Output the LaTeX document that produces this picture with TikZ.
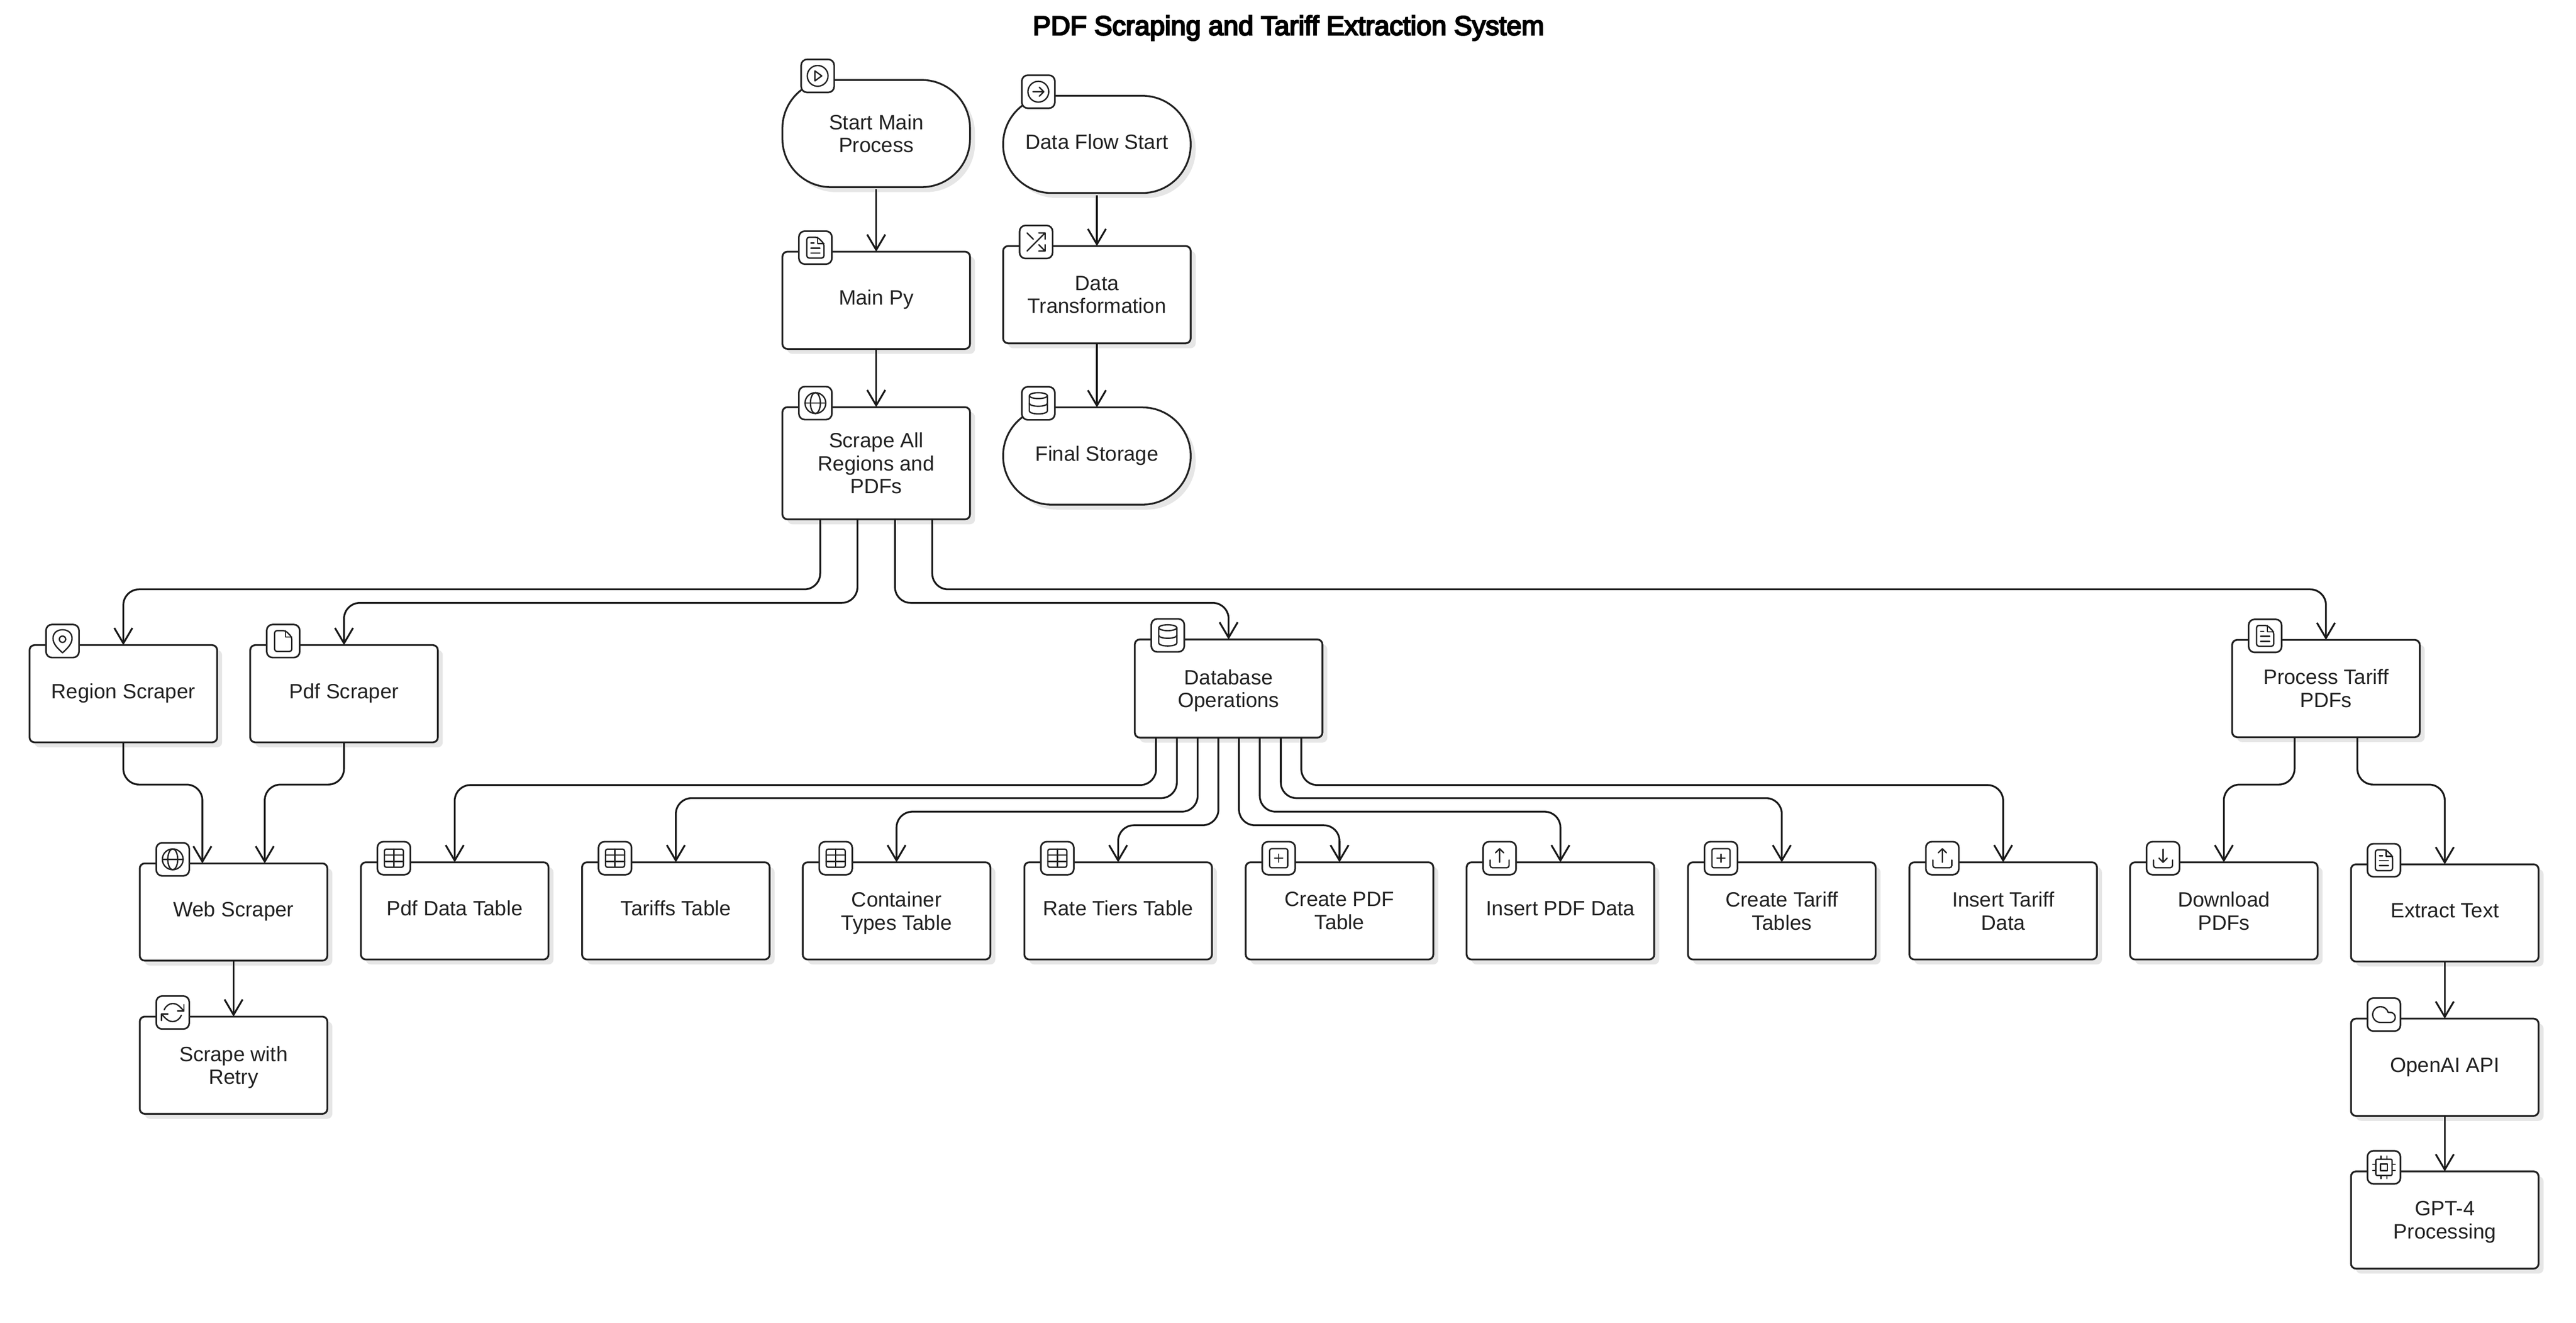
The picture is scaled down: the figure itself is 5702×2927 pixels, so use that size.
\documentclass[tikz,border=0pt]{standalone}
\usepackage{fontspec}
\setmainfont{Liberation Sans}
\newfontfamily\titlefont[FakeBold=5]{Liberation Sans}
\usetikzlibrary{calc,arrows.meta,shadows}
\definecolor{ink}{HTML}{222222}
\definecolor{shadowgray}{HTML}{E6E6E6}
\tikzset{
  flowbox/.style={draw=ink, fill=white, text=ink, line width=0.04cm, rounded corners=0.11cm,
    minimum width=4.15cm, minimum height=2.15cm, inner sep=0pt, outer sep=0pt, align=center,
    font=\fontsize{13.05}{14.5}\selectfont,
    drop shadow={shadow xshift=0.11cm, shadow yshift=-0.11cm, fill=shadowgray, opacity=1}},
  pillbox/.style={flowbox, rounded corners=1.07cm},
  iconbox/.style={draw=ink, fill=white, line width=0.036cm, rounded corners=0.13cm,
    minimum size=0.73cm, inner sep=0pt, outer sep=0pt},
  titletext/.style={inner sep=0pt, font=\titlefont\fontsize{17}{20}\selectfont},
  flowarrow/.style={draw=black!90, line width=0.04cm, rounded corners=0.35cm,
    -{Straight Barb[length=0.34cm,width=0.4cm]}},
  glyphline/.style={draw=ink, line width=0.03cm, line cap=round, line join=round},
  playglyph/.pic={
    \draw[glyphline] (0,0) circle [radius=23];
    \draw[glyphline] (-6,-11) -- (9,0) -- (-6,11) -- cycle;
  },
  goglyph/.pic={
    \draw[glyphline] (0,0) circle [radius=23];
    \draw[glyphline] (-12,0) -- (12,0) (2,-10) -- (12,0) -- (2,10);
  },
  fileglyph/.pic={
    \draw[glyphline, rounded corners=0.05cm] (5,-23) -- (-19,-23) -- (-19,23) -- (19,23) -- (19,-9) -- cycle;
    \draw[glyphline] (5,-23) -- (5,-9) -- (19,-9);
  },
  docglyph/.pic={
    \pic {fileglyph};
    \draw[glyphline] (-10,-10) -- (-3,-10) (-10,1) -- (10,1) (-10,12) -- (10,12);
  },
  shuffleglyph/.pic={
    \draw[glyphline] (-20,20) -- (20,-20) (6,-20) -- (20,-20) -- (20,-6);
    \draw[glyphline] (-20,-20) -- (-6,-6) (6,6) -- (20,20) (20,6) -- (20,20) -- (6,20);
  },
  globeglyph/.pic={
    \draw[glyphline] (0,0) circle [radius=23];
    \draw[glyphline] (0,0) ellipse [x radius=11, y radius=23];
    \draw[glyphline] (-23,0) -- (23,0);
  },
  dbglyph/.pic={
    \draw[glyphline] (0,-17) ellipse [x radius=20, y radius=6.5];
    \draw[glyphline] (-20,-17) -- (-20,17) .. controls (-20,21) and (-9,23.5) .. (0,23.5)
      .. controls (9,23.5) and (20,21) .. (20,17) -- (20,-17);
    \draw[glyphline] (-20,0) .. controls (-20,4) and (-9,6.5) .. (0,6.5)
      .. controls (9,6.5) and (20,4) .. (20,0);
  },
  pinglyph/.pic={
    \draw[glyphline] (0,26) .. controls (-12,15) and (-21,6) .. (-21,-6)
      .. controls (-21,-18) and (-12,-25) .. (0,-25) .. controls (12,-25) and (21,-18) .. (21,-6)
      .. controls (21,6) and (12,15) .. (0,26) -- cycle;
    \draw[glyphline] (0,-4) circle [radius=7];
  },
  tableglyph/.pic={
    \draw[glyphline, rounded corners=0.04cm] (-21,-20) rectangle (21,20);
    \draw[glyphline] (0,-20) -- (0,20) (-21,-7) -- (21,-7) (-21,7) -- (21,7);
  },
  plusglyph/.pic={
    \draw[glyphline, rounded corners=0.04cm] (-20,-21) rectangle (20,21);
    \draw[glyphline] (-9,0) -- (9,0) (0,-9) -- (0,9);
  },
  trayglyph/.pic={
    \draw[glyphline, rounded corners=0.05cm] (-21,4) -- (-21,21) -- (21,21) -- (21,4);
  },
  upglyph/.pic={
    \pic {trayglyph};
    \draw[glyphline] (0,9) -- (0,-21) (-9,-12) -- (0,-21) -- (9,-12);
  },
  downglyph/.pic={
    \pic {trayglyph};
    \draw[glyphline] (0,-20) -- (0,9) (-9,0) -- (0,9) -- (9,0);
  },
  retryglyph/.pic={
    \foreach \turn in {0,180} {
      \begin{scope}[rotate=\turn]
        \draw[glyphline] (-19,-6) .. controls (-16,-14) and (-8,-20) .. (0,-20)
          .. controls (8,-20) and (14,-16) .. (24.7,-3.3);
        \draw[glyphline] (24.7,-17.7) -- (24.7,-3.3) -- (10.7,-3.3);
      \end{scope}
    }
  },
  cloudglyph/.pic={
    \draw[glyphline, scale=2.5, shift={(-12,-12)}] (17.5,19) -- (9,19)
      .. controls (5.15,19) and (2,15.85) .. (2,12) .. controls (2,8.15) and (5.15,5) .. (9,5)
      .. controls (12.1,5) and (14.82,7.03) .. (15.71,10) -- (17.5,10)
      .. controls (19.98,10) and (22,12.02) .. (22,14.5) .. controls (22,16.98) and (19.98,19) .. (17.5,19) -- cycle;
  },
  chipglyph/.pic={
    \draw[glyphline, rounded corners=0.03cm] (-18,-18) rectangle (18,18);
    \draw[glyphline] (-7.5,-7.5) rectangle (7.5,7.5);
    \foreach \p in {-6.7,6.7} {
      \draw[glyphline] (\p,-25) -- (\p,-18) (\p,18) -- (\p,25) (-25,\p) -- (-18,\p) (18,\p) -- (25,\p);
    }
  },
}
\newcommand{\oneline}[1]{\rule[-0.14cm]{0pt}{0.49cm}#1}
\newcommand{\nodrop}[1]{\raisebox{0pt}[\height][0pt]{#1}}
\newcommand{\iconat}[3]{
  \node[iconbox] (#1icon) at ($(#1.north west)+(#2,-9)$) {};
  \pic at (#1icon) {#3};
}
\newcommand{\fanarrow}[5]{
  \coordinate (fanend) at ($(#3.north)+(#4,0)$);
  \draw[flowarrow] ($(#1.south)+(#2,0)$) |- (fanend |- 0,#5) -- (fanend);
}

\begin{document}
\begin{tikzpicture}[x=0.01cm, y=-0.01cm]
  \useasboundingbox (0,0) rectangle (5702,2927);
  \node[titletext] (title) at (2852,62) {PDF Scraping and Tariff Extraction System};

  % the two columns on top
  \node[pillbox, minimum height=2.37cm] (startmain) at (1939.5,295.5) {Start Main\\Process};
  \node[flowbox] (mainpy) at (1939.5,664.5) {\oneline{Main Py}};
  \node[flowbox, minimum height=2.48cm] (scrapeall) at (1939.5,1025) {Scrape All\\Regions and\\PDFs};
  \node[pillbox] (dataflow) at (2428,319.5) {\oneline{Data Flow Start}};
  \node[flowbox] (transform) at (2428,652) {Data\\Transformation};
  \node[pillbox] (finalstore) at (2428,1009) {\oneline{Final Storage}};

  \node[flowbox] (regionscraper) at (273,1535) {\oneline{Region Scraper}};
  \node[flowbox] (pdfscraper) at (761.5,1535) {\oneline{Pdf Scraper}};
  \node[flowbox, minimum height=2.17cm] (dbops) at (2719.5,1523.5) {Database\\\nodrop{Operations}};
  \node[flowbox] (processtariff) at (5148.5,1523.5) {Process Tariff\\PDFs};

  \node[flowbox] (webscraper) at (517,2018) {\oneline{Web Scraper}};
  \node[flowbox] (retry) at (517,2357) {Scrape with\\\nodrop{Retry}};

  % table row under the database box
  \foreach \name/\cx/\lab/\glyph in {
    pdfdata/1006.5/{\oneline{Pdf Data Table}}/tableglyph,
    tariffs/1496/{\oneline{Tariffs Table}}/tableglyph,
    container/1984.5/{Container\\\nodrop{Types Table}}/tableglyph,
    ratetiers/2475/{\oneline{Rate Tiers Table}}/tableglyph,
    createpdf/2965/{Create PDF\\Table}/plusglyph,
    insertpdf/3454/{\oneline{Insert PDF Data}}/upglyph,
    createtariff/3944/{Create Tariff\\Tables}/plusglyph,
    inserttariff/4434/{Insert Tariff\\Data}/upglyph} {
    \node[flowbox] (\name) at (\cx,2015.5) {\lab};
    \iconat{\name}{73}{\glyph}
  }

  \node[flowbox] (download) at (4922.5,2015.5) {Download\\PDFs};
  \node[flowbox] (extract) at (5411.5,2020) {\oneline{Extract Text}};
  \node[flowbox] (openai) at (5411.5,2361.5) {\oneline{OpenAI API}};
  \node[flowbox] (gptfour) at (5411.5,2699.5) {GPT-4\\\nodrop{Processing}};

  \iconat{startmain}{78}{playglyph}
  \iconat{mainpy}{73}{docglyph}
  \iconat{scrapeall}{73}{globeglyph}
  \iconat{dataflow}{78}{goglyph}
  \iconat{transform}{73}{shuffleglyph}
  \iconat{finalstore}{78}{dbglyph}
  \iconat{regionscraper}{73}{pinglyph}
  \iconat{pdfscraper}{73}{fileglyph}
  \iconat{dbops}{73}{dbglyph}
  \iconat{processtariff}{73}{docglyph}
  \iconat{webscraper}{73}{globeglyph}
  \iconat{retry}{73}{retryglyph}
  \iconat{download}{73}{downglyph}
  \iconat{extract}{73}{docglyph}
  \iconat{openai}{73}{cloudglyph}
  \iconat{gptfour}{73}{chipglyph}

  % straight arrows
  \draw[flowarrow, shorten <=0.05cm] (startmain) -- (mainpy);
  \draw[flowarrow, shorten <=0.05cm] (dataflow) -- (transform);
  \foreach \a/\b in {mainpy/scrapeall, transform/finalstore, webscraper/retry, extract/openai, openai/gptfour} {
    \draw[flowarrow] (\a) -- (\b);
  }

  % arrows with a bend
  \foreach \b/\dx/\lev in {regionscraper/-124/1304, pdfscraper/-41.5/1334, dbops/41.5/1334, processtariff/124/1304} {
    \fanarrow{scrapeall}{\dx}{\b}{0}{\lev}
  }
  \foreach \b/\dx/\lev in {pdfdata/-160.5/1737, tariffs/-114.5/1766, container/-68.5/1796, ratetiers/-22.5/1826,
      createpdf/23/1826, insertpdf/69/1796, createtariff/115.5/1766, inserttariff/161/1737} {
    \fanarrow{dbops}{\dx}{\b}{0}{\lev}
  }
  \fanarrow{regionscraper}{0}{webscraper}{-69}{1736}
  \fanarrow{pdfscraper}{0}{webscraper}{69}{1736}
  \fanarrow{processtariff}{-69.5}{download}{0}{1736}
  \fanarrow{processtariff}{69.5}{extract}{0}{1736}
\end{tikzpicture}
\end{document}
